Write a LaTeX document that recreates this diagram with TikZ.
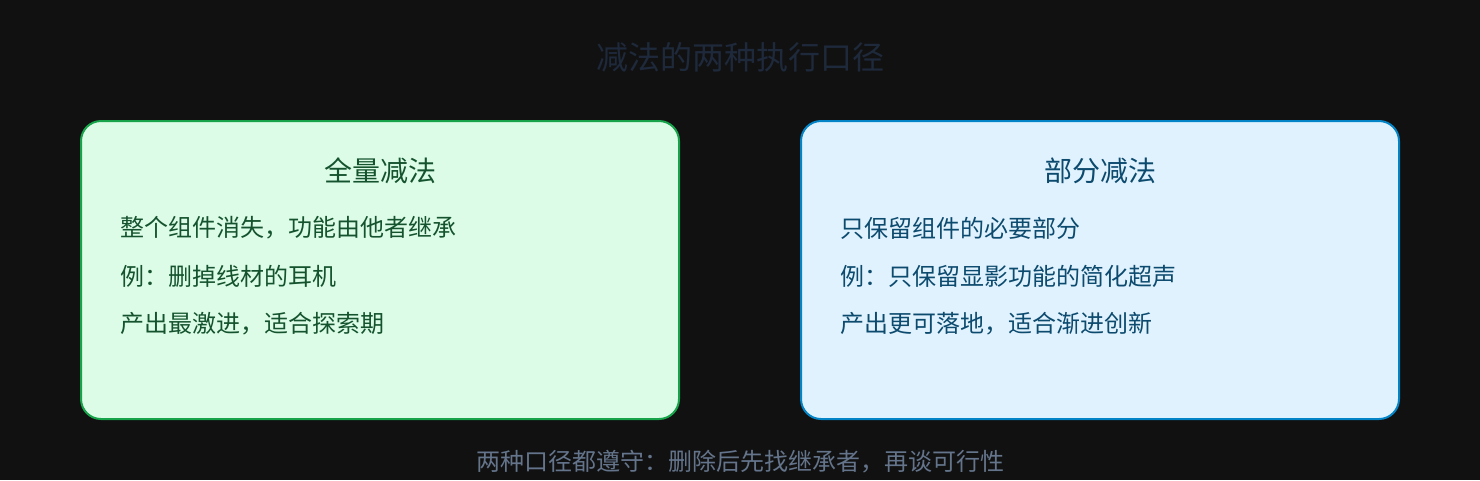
\documentclass[tikz,border=0pt]{standalone}
\usepackage{fontspec}
\setmainfont{Noto Sans CJK SC}
\definecolor{bg}{HTML}{111111}
\definecolor{titlec}{HTML}{1E293B}
\definecolor{gfill}{HTML}{DCFCE7}
\definecolor{gdraw}{HTML}{16A34A}
\definecolor{gtext}{HTML}{14532D}
\definecolor{bfill}{HTML}{E0F2FE}
\definecolor{bdraw}{HTML}{0284C7}
\definecolor{btext}{HTML}{0C4A6E}
\definecolor{foot}{HTML}{64748B}
\begin{document}
\begin{tikzpicture}[x=1pt,y=-1pt,
  panel/.style={rounded corners=20pt,line width=2pt},
  ptitle/.style={anchor=center,inner sep=0pt,font=\fontsize{28}{31}\selectfont},
  pline/.style={anchor=west,inner sep=0pt,font=\fontsize{24}{28}\selectfont}]
\fill[bg] (0,0) rectangle (1480,480);
\useasboundingbox (0,0) rectangle (1480,480);
\node[inner sep=0pt,text=titlec,font=\fontsize{32}{35}\selectfont] (title) at (740,57) {减法的两种执行口径};
\draw[panel,fill=gfill,draw=gdraw] (81,121) rectangle (679,419);
\draw[panel,fill=bfill,draw=bdraw] (801,121) rectangle (1399,419);
\node[ptitle,text=gtext] (lt) at (380,171) {全量减法};
\node[pline,text=gtext] (l1) at (120,228) {整个组件消失，功能由他者继承};
\node[pline,text=gtext] (l2) at (120,276) {例：删掉线材的耳机};
\node[pline,text=gtext] (l3) at (120,324) {产出最激进，适合探索期};
\node[ptitle,text=btext] (rt) at (1100,171) {部分减法};
\node[pline,text=btext] (r1) at (840,228) {只保留组件的必要部分};
\node[pline,text=btext] (r2) at (840,276) {例：只保留显影功能的简化超声};
\node[pline,text=btext] (r3) at (840,324) {产出更可落地，适合渐进创新};
\node[inner sep=0pt,text=foot,font=\fontsize{24}{28}\selectfont] (ft) at (740,462) {两种口径都遵守：删除后先找继承者，再谈可行性};
\end{tikzpicture}
\end{document}
